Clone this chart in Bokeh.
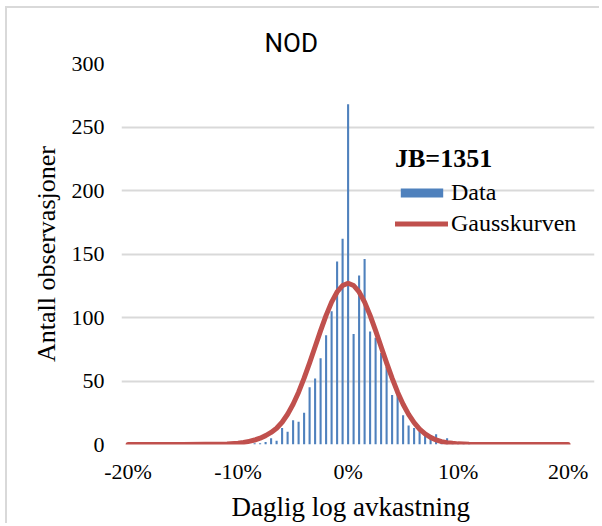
from bokeh.plotting import figure
from bokeh.models import (Range1d, FixedTicker, NumeralTickFormatter, Legend,
                          LegendItem, ColumnDataSource, Title)
from bokeh.embed import file_html
from bokeh.resources import INLINE

# Histogram bins (daily log return, %) and counts
bins_pct = [-8.5, -8.0, -7.5, -7.0, -6.5, -6.0, -5.5, -5.0, -4.5, -4.0,
            -3.5, -3.0, -2.5, -2.0, -1.5, -1.0, -0.5, 0.0, 0.5, 1.0,
            1.5, 2.0, 2.5, 3.0, 3.5, 4.0, 4.5, 5.0, 5.5, 6.0,
            6.5, 7.0, 7.5, 8.0, 8.5, 9.0, 9.5, 10.0, 10.5, 11.0]
counts = [1, 1, 2, 5, 3, 13, 10, 19, 18, 25,
          45, 52, 68, 86, 105, 144, 162, 268, 87, 133,
          146, 89, 84, 72, 61, 39, 40, 23, 15, 13,
          11, 8, 5, 8, 3, 5, 2, 2, 1, 2]

# Gauss curve
curve_x_pct = [-20, -15, -13, -12, -11, -10, -9.5, -9, -8.5, -8, -7.5, -7, -6.5,
               -6, -5.5, -5, -4.5, -4, -3.5, -3, -2.5, -2, -1.5, -1, -0.5,
               0, 0.5, 1, 1.5, 2, 2.5, 3, 3.5, 4, 4.5, 5, 5.5, 6, 6.5,
               7, 7.5, 8, 8.5, 9, 9.5, 10, 11, 12, 13, 15, 20]
curve_y = [0, 0, 0.1, 0.2, 0.4, 1.0, 1.6, 2.5, 3.5, 5.0, 7.0, 9.5, 12.8,
           17.5, 23.8, 31.7, 41.2, 52.2, 64.3, 77.0, 89.7, 101.7, 112.1, 120.1, 125.2,
           127, 125.2, 120.1, 112.1, 101.7, 89.7, 77.0, 64.3, 52.2, 41.2, 31.7, 23.7, 17.2, 12.1,
           8.3, 5.6, 3.6, 2.3, 1.4, 0.9, 0.5, 0.15, 0.05, 0, 0, 0]

x_ticks = [-0.2, -0.1, 0.0, 0.1, 0.2]
y_ticks = [0, 50, 100, 150, 200, 250, 300]

BLUE = "#4F81BD"
RED = "#C0504D"
GRID = "#D9D9D9"
SERIF = "Liberation Serif"

p = figure(width=594, height=517, output_backend="svg", toolbar_location=None,
           x_range=Range1d(-0.206, 0.224), y_range=Range1d(0, 300),
           min_border_left=114, min_border_right=7, min_border_top=55,
           min_border_bottom=81)
p.stylesheets = [":host { margin-left: 5px; margin-top: 6px; "
                 "border-left: 2px solid #D9D9D9; border-top: 2px solid #D9D9D9; }"]
p.outline_line_color = None
p.background_fill_color = "white"
p.border_fill_color = "white"

# chart title, with its own standoff from the plot area
ptitle = Title(text="NOD", align="left", offset=143, standoff=12,
               text_font="Roboto", text_font_size="26px",
               text_font_style="normal", text_color="black")
p.add_layout(ptitle, "above")

src = ColumnDataSource(dict(x=[b / 100 for b in bins_pct], top=counts))
bars = p.vbar(x="x", top="top", width=0.0019, source=src, fill_color=BLUE,
              line_color=None)
csrc = ColumnDataSource(dict(x=[v / 100 for v in curve_x_pct], y=curve_y))
curve = p.line(x="x", y="y", source=csrc, line_color=RED, line_width=5,
               line_cap="round", line_join="round")

# axes
p.xaxis.ticker = FixedTicker(ticks=x_ticks)
p.xaxis.formatter = NumeralTickFormatter(format="0%")
p.yaxis.ticker = FixedTicker(ticks=y_ticks)
for ax in (p.xaxis[0], p.yaxis[0]):
    ax.axis_line_color = None
    ax.major_tick_line_color = None
    ax.minor_tick_line_color = None
    ax.major_tick_out = 0
    ax.major_tick_in = 0
    ax.minor_tick_out = 0
    ax.minor_tick_in = 0
    ax.major_label_text_font = SERIF
    ax.major_label_text_font_size = "22px"
    ax.major_label_text_color = "black"
    ax.axis_label_text_font = SERIF
    ax.axis_label_text_font_size = "26px"
    ax.axis_label_text_font_style = "normal"
    ax.axis_label_text_color = "black"
p.yaxis.axis_label = "Antall observasjoner"
p.xaxis.major_label_standoff = 14
p.yaxis.major_label_standoff = 17
p.yaxis.axis_label_standoff = 8

# x-axis title placed under the axis, aligned like the reference
xtitle = Title(text="Daglig log avkastning", align="left", offset=110,
               standoff=7, text_font=SERIF, text_font_size="27px",
               text_font_style="normal", text_color="black")
p.add_layout(xtitle, "below")

p.xgrid.grid_line_color = None
p.ygrid.grid_line_color = GRID
p.ygrid.grid_line_width = 2
p.ygrid.bounds = (-0.206, 0.2032)

legend = Legend(items=[LegendItem(label="Data", renderers=[bars]),
                       LegendItem(label="Gausskurven", renderers=[curve])],
                location=(274, 207), title="JB=1351")
legend.title_text_font = SERIF
legend.title_text_font_style = "bold"
legend.title_text_font_size = "26px"
legend.title_text_color = "black"
legend.title_standoff = 5
legend.label_text_font = SERIF
legend.label_text_font_size = "24px"
legend.label_text_color = "black"
legend.glyph_width = 53
legend.glyph_height = 11
legend.label_standoff = 3
legend.spacing = 4
legend.padding = 0
legend.margin = 0
legend.background_fill_alpha = 0
legend.border_line_alpha = 0
p.add_layout(legend)

open("out.html", "w").write(file_html(p, INLINE))
